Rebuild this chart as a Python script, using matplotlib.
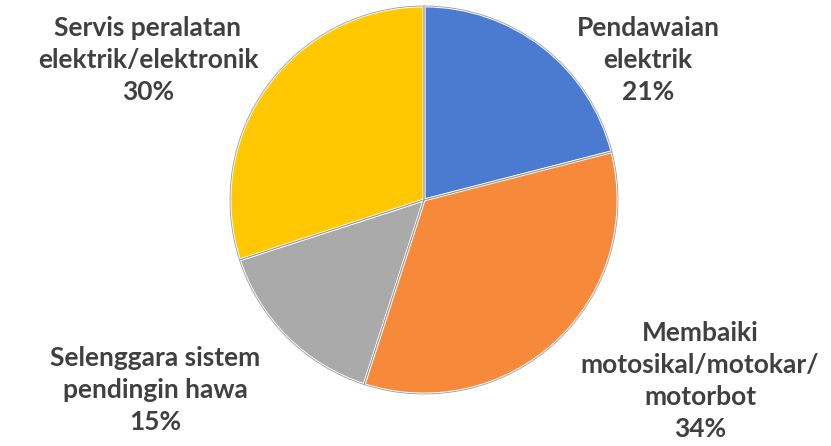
import matplotlib
matplotlib.use("Agg")
import matplotlib.pyplot as plt

# data
labels = ["Pendawaian\nelektrik",
          "Membaiki\nmotosikal/motokar/\nmotorbot",
          "Selenggara sistem\npendingin hawa",
          "Servis peralatan\nelektrik/elektronik"]
values = [21, 34, 15, 30]
colors = ["#4A7BD0", "#F68A3A", "#AAAAAA", "#FFC800"]

# label centres in pixels of the original picture (layout only)
label_px = [(648, 60), (700, 381), (155, 390), (148, 60)]
cx, cy, r = 424, 200, 194

plt.rcParams['font.family'] = ['Lato', 'DejaVu Sans']

fig = plt.figure(figsize=(8.31, 4.46), dpi=100)
W, H = 831, 446
ax = fig.add_axes([(cx - r) / W, (H - cy - r) / H, 2 * r / W, 2 * r / H])

wedges, _ = ax.pie(values, colors=colors, startangle=90, counterclock=False,
                   radius=1.0,
                   wedgeprops=dict(edgecolor="white", linewidth=2.0))
# thin grey rim like the bevel in the original
ax.pie(values, colors=["none"] * 4, startangle=90, counterclock=False,
       radius=1.0, wedgeprops=dict(edgecolor="#9a9a9a", linewidth=0.6, fill=False))

for lab, v, (px, py) in zip(labels, values, label_px):
    ax.text((px - cx) / r, (cy - py) / r, f"{lab}\n{v}%", ha="center", va="center",
            fontsize=19, fontweight="bold", color="#404040", linespacing=1.4,
            clip_on=False)

ax.set_xlim(-1, 1)
ax.set_ylim(-1, 1)
ax.set_aspect("equal")
ax.axis("off")

plt.savefig("out.png", dpi=100)
